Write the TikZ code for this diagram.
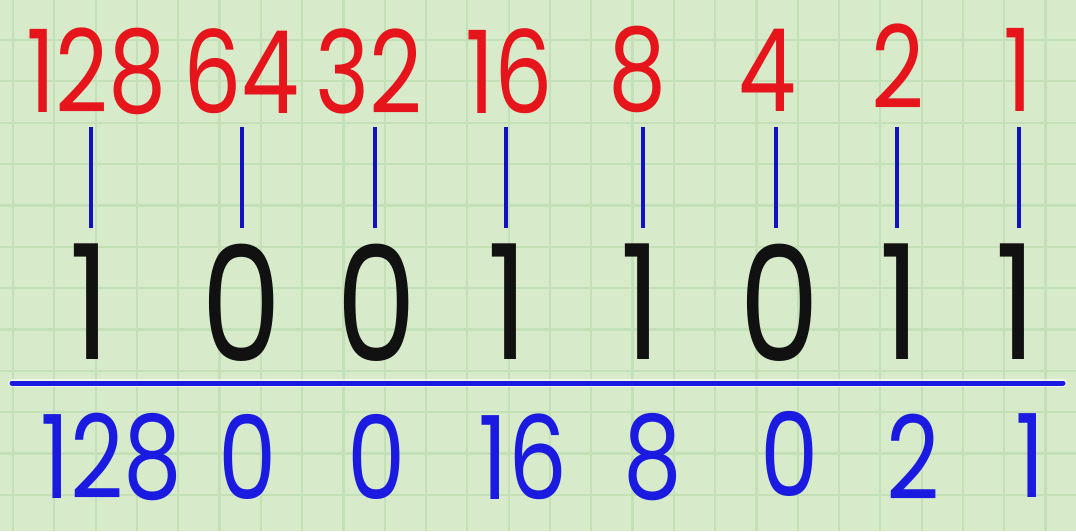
\documentclass[tikz,border=0pt]{standalone}
\usepackage{fontspec}
\newfontfamily\hand[Numbers=Proportional,FakeStretch=0.8]{Poppins}
\definecolor{bg}{HTML}{D7EBCB}
\definecolor{gridc}{HTML}{C4E0B6}
\definecolor{rednum}{HTML}{E6151B}
\definecolor{bluenum}{HTML}{1A1AE0}
\definecolor{tickc}{HTML}{1212C4}
\definecolor{blacknum}{HTML}{111111}
\tikzset{
  gridline/.style={draw=gridc, line width=2.2pt},
  weight/.style={inner sep=0pt, text=rednum, font=\hand\fontsize{115}{115}\selectfont},
  bit/.style={inner sep=0pt, text=blacknum, font=\hand\fontsize{160}{160}\selectfont},
  value/.style={inner sep=0pt, text=bluenum, font=\hand\fontsize{116}{116}\selectfont},
  tick/.style={draw=tickc, line width=4pt},
  sumline/.style={draw=bluenum, line width=5pt, line cap=round}
}
\begin{document}
\begin{tikzpicture}[x=1pt,y=-1pt]
\fill[bg] (0,0) rectangle (1076,531);
\useasboundingbox (0,0) rectangle (1076,531);
\foreach \i in {0,...,25} \draw[gridline] ({13+41.3*\i},0) -- ({13+41.3*\i},531);
\foreach \i in {-1,...,12} \draw[gridline] (0,{40+41.35*\i}) -- (1076,{40+41.35*\i});
% weights
\node[weight] (w128) at (96.5,71) {128};
\node[weight] (w64) at (241.5,71) {64};
\node[weight] (w32) at (369,71) {32};
\node[weight] (w16) at (509,71) {16};
\node[weight] (w8) at (637.5,69) {8};
\node[weight] (w4) at (767.5,70) {4};
\node[weight] (w2) at (898,66) {2};
\node[weight] (w1) at (1018.5,70) {1};
% bits
\node[bit] (b1) at (90,302) {1};
\node[bit] (b2) at (242,303) {0};
\node[bit] (b3) at (377,303) {0};
\node[bit] (b4) at (508,302) {1};
\node[bit] (b5) at (641,302) {1};
\node[bit] (b6) at (780,303) {0};
\node[bit] (b7) at (900,302) {1};
\node[bit] (b8) at (1016,302) {1};
% ticks
\foreach \n/\x in {1/91,2/242,3/375,4/506,5/643,6/776,7/897,8/1019}{
  \coordinate (ta\n) at (\x,127);
  \coordinate (tb\n) at (\x,228);
  \draw[tick] (ta\n) -- (tb\n);
}
% sum line
\coordinate (sl) at (12,383);
\coordinate (sr) at (1063,383);
\draw[white, line width=8pt, line cap=round, opacity=0.6] (sl) -- (sr);
\draw[sumline] (sl) -- (sr);
% values
\node[value] (v128) at (111.5,457) {128};
\node[value] (v64) at (247.5,457) {0};
\node[value] (v32) at (376.5,457) {0};
\node[value] (v16) at (523,457) {16};
\node[value] (v8) at (652.5,457) {8};
\node[value] (v4) at (790,454) {0};
\node[value] (v2) at (913,457) {2};
\node[value] (v1) at (1030,456) {1};
\end{tikzpicture}
\end{document}
